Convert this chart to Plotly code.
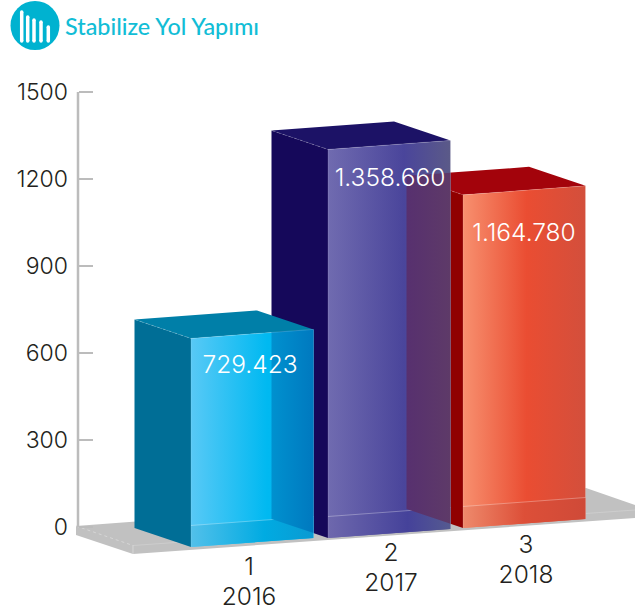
import plotly.graph_objects as go

# ---- data ----
title = "Stabilize Yol Yapımı"
indices = ["1", "2", "3"]
years = ["2016", "2017", "2018"]
values = [729.423, 1358.660, 1164.780]
tick_vals = [0, 300, 600, 900, 1200, 1500]
icon_heights = [29, 24, 21, 19, 14]

# ---- styling / geometry (canvas pixels) ----
W, H = 635, 614
Y0_PX, PX_PER_UNIT = 527.0, 0.29
BAR_PX_PER_UNIT = 0.286
FRONT_X = [191.0, 328.0, 463.0]
FRONT_BASE = [547.0, 538.0, 528.0]
BAR_W, BAR_SLOPE = 122.5, -9.0
DEPTH_X, DEPTH_Y = -56.5, -19.0
STRIP = 21.5
INK = "#231f20"
FONT = "Inter"
palette = [
    dict(left="#006e96", top="#007fa8",
         front=[[0, "#58c9f6"], [0.62, "#00b9f1"], [1, "#00b4ec"]],
         over=[[0, "#0091cf"], [1, "#0079bf"]],
         strip=[[0, "#52c0ea"], [0.6, "#00abe2"], [1, "#0a9ad2"]]),
    dict(left="#15085a", top="#1c1266",
         front=[[0, "#706bb0"], [0.62, "#4a459b"], [1, "#5b5a88"]],
         over=[[0, "#57306f"], [1, "#5e3a68"]],
         strip=[[0, "#6e68ad"], [0.65, "#45429a"], [1, "#555a90"]]),
    dict(left="#900000", top="#a3030b",
         front=[[0, "#f7906f"], [0.52, "#ea4d32"], [1, "#d34f3c"]],
         over=None,
         strip=[[0, "#ee8a6c"], [0.5, "#dd4f38"], [1, "#cf4a38"]]),
]


def v(p):
    return (Y0_PX - p) / PX_PER_UNIT


fig = go.Figure()


def poly(pts, color=None, grad=None, x0=None, x1=None):
    kw = {}
    if grad is not None:
        kw["fillgradient"] = dict(type="horizontal", colorscale=grad, start=x0, stop=x1)
    else:
        kw["fillcolor"] = color
    fig.add_trace(go.Scatter(x=[p[0] for p in pts] + [pts[0][0]],
                             y=[v(p[1]) for p in pts] + [v(pts[0][1])],
                             mode="lines", line=dict(width=0), fill="toself",
                             hoverinfo="skip", showlegend=False, **kw))


def stroke(pts, color, width=1, dash=None):
    fig.add_trace(go.Scatter(x=[p[0] for p in pts], y=[v(p[1]) for p in pts],
                             mode="lines", line=dict(color=color, width=width, dash=dash),
                             hoverinfo="skip", showlegend=False))


# floor
poly([(76, 526), (76, 535), (133, 554), (635, 518), (635, 505), (586, 488)], "#c1c1c1")
stroke([(76, 526), (133, 545.5)], "#d6d6d6", 1, "dot")
stroke([(133, 545.5), (635, 510)], "#cdcdcd", 1)
stroke([(133, 545), (133, 554)], "#d6d6d6", 1)

# y axis line
fig.add_trace(go.Scatter(x=[78, 78], y=[tick_vals[0], tick_vals[-1]], mode="lines",
                         line=dict(color="#bcbcbc", width=2.5),
                         hoverinfo="skip", showlegend=False))

# bars: furthest first
for i in [2, 1, 0]:
    c = palette[i]
    x, b = FRONT_X[i], FRONT_BASE[i]
    h = values[i] * BAR_PX_PER_UNIT
    t = b - h
    xr = x + BAR_W
    poly([(x + DEPTH_X, b + DEPTH_Y), (x, b), (x, t), (x + DEPTH_X, t + DEPTH_Y)], c["left"])
    poly([(x, t), (x + DEPTH_X, t + DEPTH_Y), (xr + DEPTH_X, t + BAR_SLOPE + DEPTH_Y), (xr, t + BAR_SLOPE)], c["top"])
    poly([(x, t), (xr, t + BAR_SLOPE), (xr, b + BAR_SLOPE), (x, b)], grad=c["front"], x0=x, x1=xr)
    poly([(x, b - STRIP), (xr, b - STRIP + BAR_SLOPE), (xr, b + BAR_SLOPE), (x, b)], grad=c["strip"], x0=x, x1=xr)
    stroke([(x, b - STRIP), (xr, b - STRIP + BAR_SLOPE)], "rgba(255,255,255,0.3)", 1)
    if c["over"] is not None:
        n = i + 1
        nx = FRONT_X[n] + DEPTH_X
        nb = FRONT_BASE[n] + DEPTH_Y
        nt = nb - values[n] * BAR_PX_PER_UNIT
        s = BAR_SLOPE / BAR_W
        k = DEPTH_Y / DEPTH_X
        d = xr - nx
        own_l = t + s * (nx - x)
        poly([(nx, max(own_l, nt)), (xr, max(t + BAR_SLOPE, nt + s * d)),
              (xr, nb + k * d), (nx, nb)], grad=c["over"], x0=nx, x1=xr)
    stroke([(x + DEPTH_X, t + DEPTH_Y), (x, t)], "rgba(255,255,255,0.22)", 1, "dot")
    stroke([(x, t), (xr, t + BAR_SLOPE), (xr, b + BAR_SLOPE)], "rgba(255,255,255,0.16)", 1)
    stroke([(x, t), (x, b)], "rgba(255,255,255,0.14)", 1)

# value labels
label_pos = [(250, 366.5), (390, 179.5), (524, 234.5)]
for val, (lx, ly) in zip(values, label_pos):
    txt = f"{round(val * 1000):,}".replace(",", ".")
    fig.add_trace(go.Scatter(x=[lx], y=[v(ly)], mode="text", text=[txt],
                             textfont=dict(family=FONT, size=24.5, color="white", weight=300),
                             textposition="middle center", hoverinfo="skip", showlegend=False))

# category labels
cat_pos = [(249, 569, 598.5), (391, 555, 584.5), (526, 547, 576.5)]
for idx, yr, (lx, y1, y2) in zip(indices, years, cat_pos):
    fig.add_trace(go.Scatter(x=[lx, lx], y=[v(y1), v(y2)], mode="text", text=[idx, yr],
                             textfont=dict(family=FONT, size=24.5, color=INK, weight=300),
                             textposition="middle center", hoverinfo="skip", showlegend=False))

# header icon
fig.add_trace(go.Scatter(x=[35], y=[v(25.5)], mode="markers",
                         marker=dict(size=49, color="#00b2d0", line=dict(width=0)),
                         hoverinfo="skip", showlegend=False))
for ix, ih in zip([21.7, 27.7, 34, 41, 48.3], icon_heights):
    stroke([(ix, 41), (ix, 41 - ih)], "white", 3.5)
    fig.add_trace(go.Scatter(x=[ix, ix], y=[v(41), v(41 - ih)], mode="markers",
                             marker=dict(size=3.5, color="white", line=dict(width=0)),
                             hoverinfo="skip", showlegend=False))

fig.add_trace(go.Scatter(x=[65], y=[v(29)], mode="text", text=[title],
                         textfont=dict(family="Lato", size=23.4, color="#12bdd6", weight=500),
                         textposition="middle right", hoverinfo="skip", showlegend=False))

fig.update_layout(
    width=W, height=H, margin=dict(l=0, r=0, t=0, b=0),
    paper_bgcolor="white", plot_bgcolor="white", showlegend=False,
    xaxis=dict(range=[0, W], visible=False, fixedrange=True),
    yaxis=dict(range=[v(H), v(0)], anchor="free", position=78 / W,
               tickmode="array", tickvals=tick_vals, ticktext=[str(t) for t in tick_vals],
               ticks="inside", ticklen=14, tickwidth=2, tickcolor="#bcbcbc",
               ticklabelposition="outside", ticklabelstandoff=10,
               tickfont=dict(family=FONT, size=23, color=INK, weight=300),
               showgrid=False, zeroline=False, showline=False, fixedrange=True),
)
fig.write_html("out.html", config=dict(displayModeBar=False),
               post_script="document.body.style.margin='0';document.body.style.overflow='hidden';")
